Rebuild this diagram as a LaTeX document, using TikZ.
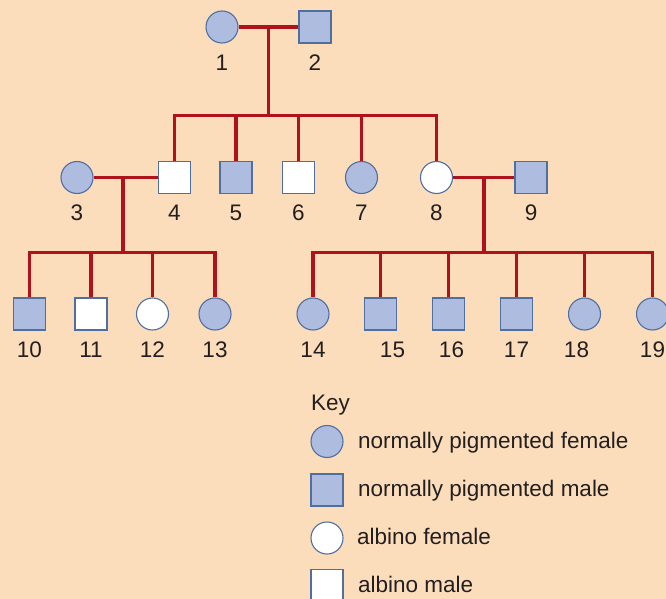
\documentclass[tikz,border=0pt]{standalone}
\usepackage{fontspec}
\setmainfont{Liberation Sans}
\usetikzlibrary{positioning,calc}

\definecolor{peach}{HTML}{FCDDBB}
\definecolor{pigment}{HTML}{AEBCE0}
\definecolor{rim}{HTML}{4F6FA0}
\definecolor{bloodline}{HTML}{B0121B}
\definecolor{ink}{HTML}{231F20}

\tikzset{
  person/.style={draw=rim, line width=1.1pt, minimum size=32pt, inner sep=0pt},
  female/.style={person, circle, fill=pigment},
  male/.style={person, rectangle, fill=pigment},
  albinof/.style={person, circle, fill=white},
  albinom/.style={person, rectangle, fill=white},
  family/.style={draw=bloodline, line width=3.6pt},
  every label/.style={inner sep=0pt, text=ink, yshift=-11pt},
}

\begin{document}
\begin{tikzpicture}[x=1pt,y=1pt,on grid,font=\fontsize{22.5}{27}\selectfont]
  \fill[peach] (0,0) rectangle (666,-599);
  \useasboundingbox (0,0) rectangle (666,-599);

  % first generation
  \node[female, label=below:1] (p_1) at (222,-27) {};
  \node[male, label=below:2] (p_2) [right=93pt of p_1] {};

  % second generation
  \node[albinom, label=below:4] (p_4) at (174.5,-177.5) {};
  \node[female, label=below:3] (p_3) [left=97.5pt of p_4] {};
  \node[male, label=below:5] (p_5) [right=61.5pt of p_4] {};
  \node[albinom, label=below:6] (p_6) [right=62.5pt of p_5] {};
  \node[female, label=below:7] (p_7) [right=63pt of p_6] {};
  \node[albinof, label=below:8] (p_8) [right=75pt of p_7] {};
  \node[male, label=below:9] (p_9) [right=94.5pt of p_8] {};

  % third generation
  \node[male, label=below:10] (p_10) at (29.5,-314) {};
  \node[albinom, label=below:11] (p_11) [right=61.5pt of p_10] {};
  \node[albinof, label=below:12] (p_12) [right=61.5pt of p_11] {};
  \node[female, label=below:13] (p_13) [right=62.5pt of p_12] {};
  \node[female, label=below:14] (p_14) at (313,-314) {};
  \node[male, label={[xshift=12pt]below:15}] (p_15) [right=67.5pt of p_14] {};
  \node[male, label={[xshift=3pt]below:16}] (p_16) [right=68pt of p_15] {};
  \node[male, label=below:17] (p_17) [right=68pt of p_16] {};
  \node[female, label={[xshift=-8pt]below:18}] (p_18) [right=68pt of p_17] {};
  \node[female, label=below:19] (p_19) [right=68pt of p_18] {};

  % matings and sibships
  \coordinate (m_12) at ($(p_1)!0.5!(p_2)$);
  \coordinate (m_34) at ($(p_3)!0.47!(p_4)$);
  \coordinate (m_89) at ($(p_8)!0.5!(p_9)$);
  \coordinate (s_a) at (m_12 |- 0,-115.5);
  \coordinate (s_b) at (m_34 |- 0,-252.5);
  \coordinate (s_c) at (m_89 |- 0,-252.5);

  \draw[family] (p_1) -- (p_2);
  \draw[family] (m_12) -- (s_a);
  \draw[family] (p_4.north) |- (p_8.north |- s_a) -- (p_8.north);
  \foreach \k in {5,6,7}
    \draw[family] (p_\k.north) -- (p_\k.north |- s_a);

  \draw[family] (p_3) -- (p_4);
  \draw[family] (m_34) -- (s_b);
  \draw[family] (p_10.north) |- (p_13.north |- s_b) -- (p_13.north);
  \foreach \k in {11,12}
    \draw[family] (p_\k.north) -- (p_\k.north |- s_b);

  \draw[family] (p_8) -- (p_9);
  \draw[family] (m_89) -- (s_c);
  \draw[family] (p_14.north) |- (p_19.north |- s_c) -- (p_19.north);
  \foreach \k in {15,16,17,18}
    \draw[family] (p_\k.north) -- (p_\k.north |- s_c);

  % key
  \node[anchor=base west, inner sep=0pt, text=ink] (key) at (311,-410) {Key};
  \node[female] (k_1) at (327,-441.5) {};
  \node[male] (k_2) [below=48.5pt of k_1] {};
  \node[albinof] (k_3) [below=48pt of k_2] {};
  \node[albinom] (k_4) [below=47.5pt of k_3] {};
  \node[anchor=base west, inner sep=0pt, text=ink] (t_1) at (358,-448) {normally pigmented female};
  \node[anchor=base west, inner sep=0pt, text=ink] (t_2) at (358,-496) {normally pigmented male};
  \node[anchor=base west, inner sep=0pt, text=ink] (t_3) at (357,-544) {albino female};
  \node[anchor=base west, inner sep=0pt, text=ink] (t_4) at (358,-592) {albino male};
\end{tikzpicture}
\end{document}
